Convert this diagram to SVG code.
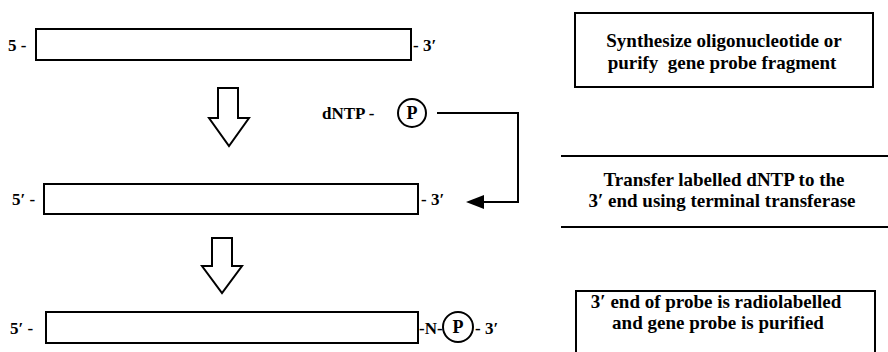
<svg xmlns="http://www.w3.org/2000/svg" width="888" height="352" viewBox="0 0 888 352">
<style>
text{font-family:"Liberation Serif","DejaVu Serif","Times New Roman",serif;font-weight:bold;fill:#000}
.lbl{font-size:17px}
.box{fill:#fff;stroke:#000;stroke-width:2}
.strand{fill:#fff;stroke:#000;stroke-width:2}
.note{font-size:19px;text-anchor:middle}
.hollow{fill:#fff;stroke:#000;stroke-width:2;stroke-linejoin:miter}
.conn{fill:none;stroke:#000;stroke-width:2}
</style>
<rect width="888" height="352" fill="#fff"/>
<g id="strand1">
<rect class="strand" x="36" y="29" width="375" height="31"/>
<text class="lbl" x="8" y="51">5 -</text>
<text class="lbl" x="413" y="51">- 3′</text>
</g>
<g id="strand2">
<rect class="strand" x="44" y="184" width="374" height="30"/>
<text class="lbl" x="12" y="205">5′ -</text>
<text class="lbl" x="421" y="205">- 3′</text>
</g>
<g id="strand3">
<rect class="strand" x="46" y="312" width="372" height="31"/>
<text class="lbl" x="10" y="334">5′ -</text>
<text class="lbl" x="419" y="334">-N-</text>
<circle cx="458" cy="327" r="15" fill="#fff" stroke="#000" stroke-width="2"/>
<text x="458" y="333" font-size="18" text-anchor="middle">P</text>
<text class="lbl" x="475" y="334">- 3′</text>
</g>
<g id="dntp">
<text class="lbl" x="322" y="119">dNTP -</text>
<circle cx="412" cy="113" r="14" fill="#fff" stroke="#000" stroke-width="2"/>
<text x="412" y="119" font-size="18" text-anchor="middle">P</text>
</g>
<g id="step1">
<rect class="box" x="575" y="13" width="298" height="74"/>
<text class="note" x="724" y="47">Synthesize oligonucleotide or</text>
<text class="note" x="722" y="69" xml:space="preserve">purify  gene probe fragment</text>
</g>
<g id="step2">
<line x1="561" y1="156" x2="888" y2="156" stroke="#000" stroke-width="2"/>
<line x1="561" y1="227" x2="888" y2="227" stroke="#000" stroke-width="2"/>
<text class="note" x="724" y="186">Transfer labelled dNTP to the</text>
<text class="note" x="722" y="207">3′ end using terminal transferase</text>
</g>
<g id="step3">
<rect class="box" x="576" y="291" width="299" height="75"/>
<text class="note" x="716" y="308">3′ end of probe is radiolabelled</text>
<text class="note" x="718" y="329">and gene probe is purified</text>
</g>
<g id="connectors">
<polygon class="hollow" points="218,88 238,88 238,118 249,118 229,146 209,118 218,118"/>
<polygon class="hollow" points="212,238 232,238 232,266 242,266 222,293 202,266 212,266"/>
<path class="conn" d="M437,113 H518 V202 H482"/>
<polygon points="466,202 484,195 484,209" fill="#000"/>
</g>
</svg>
